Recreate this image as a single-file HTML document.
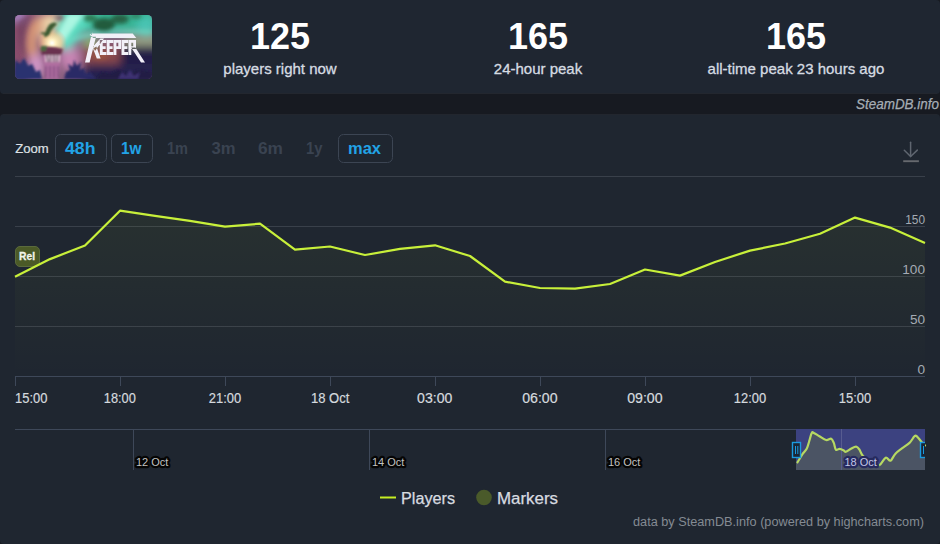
<!DOCTYPE html>
<html><head><meta charset="utf-8">
<style>
*{box-sizing:border-box}
html,body{margin:0;padding:0}
body{width:940px;height:544px;overflow:hidden;background:#171a21;position:relative;font-family:"Liberation Sans",sans-serif}
svg{position:absolute;left:0;top:0}
</style></head>
<body>
<svg width="940" height="544" viewBox="0 0 940 544" font-family="Liberation Sans">
 <!-- panels -->
 <rect x="0" y="0" width="940" height="94" rx="4" fill="#1f2631"/>
 <rect x="0" y="114" width="940" height="430" rx="4" fill="#1f2630"/>
 <path d="M3 93.5 H937" stroke="#23272f" stroke-width="1"/>
 <path d="M3 114.5 H937" stroke="#22262e" stroke-width="1"/>

 <!-- GAME IMAGE -->

 <defs>
  <linearGradient id="areaG" gradientUnits="userSpaceOnUse" x1="0" y1="176" x2="0" y2="376">
   <stop offset="0" stop-color="#c8f030" stop-opacity="0.065"/>
   <stop offset="1" stop-color="#c8f030" stop-opacity="0"/>
  </linearGradient>
  <clipPath id="gclip"><rect x="15" y="15" width="137" height="64" rx="4.5"/></clipPath>
  <filter id="b2" x="-20%" y="-20%" width="140%" height="140%"><feGaussianBlur stdDeviation="2"/></filter>
  <filter id="b1" x="-20%" y="-20%" width="140%" height="140%"><feGaussianBlur stdDeviation="0.9"/></filter>
  <filter id="b4" x="-50%" y="-50%" width="200%" height="200%"><feGaussianBlur stdDeviation="4"/></filter>
  <radialGradient id="glow" cx="0.5" cy="0.5" r="0.5">
   <stop offset="0" stop-color="#ffffff"/>
   <stop offset="0.25" stop-color="#fff0c0"/>
   <stop offset="0.6" stop-color="#f8c890" stop-opacity="0.7"/>
   <stop offset="1" stop-color="#f0a080" stop-opacity="0"/>
  </radialGradient>
 </defs>
 <g clip-path="url(#gclip)">
  <rect x="15" y="15" width="137" height="64" fill="#8a6080"/>
  <g filter="url(#b4)">
   <rect x="5" y="5" width="28" height="60" fill="#8a4e6c"/>
   <ellipse cx="18" cy="16" rx="8" ry="6" fill="#a888c8"/>
   <path d="M56 16 Q32 18 32 42 Q32 56 38 66" stroke="#e8a478" stroke-width="8" fill="none"/>
   <ellipse cx="50" cy="22" rx="8" ry="6" fill="#f0dcb0"/>
   <ellipse cx="46" cy="34" rx="6" ry="8" fill="#f0d0a0"/>
   <ellipse cx="36" cy="66" rx="8" ry="12" fill="#d498c8"/>
   <ellipse cx="70" cy="58" rx="10" ry="12" fill="#c884b4"/>
   <rect x="58" y="5" width="100" height="28" fill="#38b494"/>
   <path d="M48 46 L64 10 L100 10 L70 50 Z" fill="#58dcc0"/>
   <ellipse cx="146" cy="26" rx="10" ry="10" fill="#48c4b4"/>
   <ellipse cx="90" cy="42" rx="8" ry="5" fill="#88c078"/>
   <rect x="125" y="36" width="40" height="10" fill="#98a084"/>
   <rect x="84" y="46" width="45" height="18" fill="#8a4a4c"/>
   <rect x="120" y="46" width="45" height="40" fill="#221e46"/>
   <rect x="84" y="64" width="80" height="25" fill="#262250"/>
   <ellipse cx="22" cy="72" rx="10" ry="9" fill="#2a3070"/>
  </g>
  <g filter="url(#b2)">
   <path d="M52 44 L68 14 L84 14 L60 47 Z" fill="#b8fae8" opacity="0.85"/>
   <path d="M62 40 Q100 26 152 30 L152 34 Q100 32 64 44 Z" fill="#70e0c8" opacity="0.6"/>
   <ellipse cx="104" cy="25" rx="11" ry="7" fill="#225c3c"/>
   <ellipse cx="120" cy="19" rx="9" ry="5" fill="#266244"/>
   <ellipse cx="90" cy="18" rx="7" ry="4" fill="#2a7048" opacity="0.9"/>
   <ellipse cx="136" cy="16" rx="6" ry="3" fill="#2a7050" opacity="0.7"/>
   <ellipse cx="60" cy="18" rx="5" ry="3" fill="#8a5060" opacity="0.8"/>
   <path d="M18 22 Q24 16 32 15 Q24 30 24 45 Q24 55 28 62 Q16 50 18 22 Z" fill="#6a3a5a" opacity="0.6"/>
   <ellipse cx="100" cy="56" rx="8" ry="4" fill="#a05a40" opacity="0.7"/>
  </g>
  <circle cx="52" cy="43" r="15" fill="url(#glow)"/>
  <g filter="url(#b1)">
   <path d="M44 37 Q46 28 50 24 Q55 21 57 24 Q53 28 51 31 Q49 37 44 37 Z" fill="#3a5a30"/>
   <path d="M40 33 Q44 31 48 34 Q44 36 40 33 Z" fill="#3a5a30"/>
   <path d="M40 48 Q50 45 63 49 L61 55 L42 55 Z" fill="#6a3050"/>
   <path d="M41 46 L47 46 L46 51 L41 51 Z" fill="#4a6a40"/>
   <path d="M43 55 L61 55 L59 79 L45 79 Z" fill="#b070a0"/>
   <path d="M45 55 L60 55 L59.5 62 L45.5 62 Z" fill="#e8c8d8"/>
   <path d="M47 55 L48 62 M50.5 55 V62 M54 55 V62 M57.5 55 L57 62" stroke="#4a3050" stroke-width="1.4"/>
   <path d="M46 66 V78 M50 66 V78 M54 66 V78 M58 66 V78" stroke="#6a3a70" stroke-width="1"/>
   <path d="M64 79 L66 72 L70 70 L68 64 L73 67 L74 60 L77 66 L81 62 L80 70 L84 68 L86 74 L90 72 L96 79 Z" fill="#2a2a66"/>
   <path d="M15 60 L20 64 L24 58 L28 66 L32 64 L36 72 L40 70 L42 79 L15 79 Z" fill="#2a3070"/>
   <path d="M96 79 L102 72 L110 74 L118 70 L128 74 L138 70 L152 72 L152 79 Z" fill="#201c44"/>
   <path d="M118 79 L122 72 L126 76 L130 70 L134 76 L140 72 L138 79 Z" fill="#4a3a86" opacity="0.7"/>
  </g>
  <!-- KEEPER logo -->
  <path d="M90.7 33.4 H132.7 L136.3 37.9 H93 Z M89.5 35 L92.5 32.6 L91.5 36 Z M91 36.8 H96 L89.6 62.4 H85 Z M93 46.5 L100.4 38.6 H104 L95 51 Z M93 48.5 L96.4 46.5 L100.6 58.5 H96.8 Z M99.8 40.0 H106.3 V42.9 H102.7 V46.25 H105.70 V48.95 H102.70 V52.10 H106.3 V55.0 H99.8 Z M106.7 40.0 H113.2 V42.9 H109.60000000000001 V46.25 H112.60 V48.95 H109.60 V52.10 H113.2 V55.0 H106.7 Z M113.5 40 H121 V49 H116.4 V55 H113.5 Z M116.4 42.8 V46.2 H118.3 V42.8 Z M121.5 40.0 H128.0 V42.9 H124.4 V46.25 H127.40 V48.95 H124.40 V52.10 H128.0 V55.0 H121.5 Z M128.4 40 H136 V49 H131.3 V55 H128.4 Z M131.3 42.8 V46.2 H133.2 V42.8 Z M131.2 47.6 H135.4 L145 62.4 H141 Z" fill="#f2f0f8" fill-rule="evenodd"/>
 </g>


 <!-- stats -->
 <g fill="#ffffff" font-weight="bold" font-size="36" text-anchor="middle">
  <text x="280" y="49">125</text>
  <text x="538" y="49">165</text>
  <text x="796" y="49">165</text>
 </g>
 <g fill="#d6dce2" stroke="#d6dce2" stroke-width="0.3" font-size="15" text-anchor="middle">
  <text x="280" y="74">players right now</text>
  <text x="538" y="74">24-hour peak</text>
  <text x="796" y="74">all-time peak 23 hours ago</text>
 </g>
 <text x="856" y="109.3" font-size="14" font-style="italic" fill="#a6adb5" stroke="#a6adb5" stroke-width="0.25" textLength="83" lengthAdjust="spacingAndGlyphs">SteamDB.info</text>

 <!-- zoom -->
 <text x="15.3" y="153.2" font-size="13.3" fill="#dde1e5" stroke="#dde1e5" stroke-width="0.2" textLength="33.5" lengthAdjust="spacingAndGlyphs">Zoom</text>
 <g fill="none" stroke="#3c4553" stroke-width="1">
  <rect x="55.5" y="134.5" width="51" height="28" rx="5"/>
  <rect x="111.5" y="134.5" width="41" height="28" rx="5"/>
  <rect x="338.5" y="134.5" width="54" height="28" rx="5"/>
 </g>
 <g font-size="16" font-weight="bold" fill="#22a3e6">
  <text x="65" y="154" textLength="30.5" lengthAdjust="spacingAndGlyphs">48h</text>
  <text x="121" y="154" textLength="20.5" lengthAdjust="spacingAndGlyphs">1w</text>
  <text x="348" y="154" textLength="33" lengthAdjust="spacingAndGlyphs">max</text>
 </g>
 <g font-size="16" font-weight="bold" fill="#3a4351">
  <text x="167" y="154" textLength="21" lengthAdjust="spacingAndGlyphs">1m</text>
  <text x="211.5" y="154" textLength="24" lengthAdjust="spacingAndGlyphs">3m</text>
  <text x="258" y="154" textLength="25" lengthAdjust="spacingAndGlyphs">6m</text>
  <text x="306" y="154" textLength="16.5" lengthAdjust="spacingAndGlyphs">1y</text>
 </g>

 <!-- download icon -->
 <g stroke="#5f6670" stroke-width="1.5" fill="none" stroke-linecap="round">
  <path d="M910.6 142.2 V156.5"/>
  <path d="M904.3 150.2 L910.6 156.5 L917.3 150.1"/>
 </g>
 <path d="M903.2 161.2 H918.9" stroke="#66696e" stroke-width="1.9"/>

 <!-- grid -->
 <g stroke="#39404a" stroke-width="1">
  <path d="M15 176.5 H925"/>
  <path d="M15 226.5 H925"/>
  <path d="M15 276.5 H925"/>
  <path d="M15 326.5 H925"/>
 </g>

 <!-- area + line -->
 <path d="M15 276.8 L50 259.1 L85 245.5 L120 210.7 L155 215.8 L190 220.8 L225 226.7 L260 223.7 L295 249.6 L330 246.5 L365 255 L400 248.9 L435 245.3 L470 256 L505 281.7 L540 288 L575 288.7 L610 284 L645 269.5 L680 275.6 L715 262 L750 250.6 L785 243.5 L820 233.8 L855 217.6 L890 227.6 L925 242.9 L925 376.5 L15 376.5 Z" fill="url(#areaG)"/>
 <path d="M15 376.5 H925" stroke="#3e4859" stroke-width="1"/>
 <g stroke="#3e4859" stroke-width="1">
  <path d="M15.5 376 V386"/><path d="M120.5 376 V386"/><path d="M225.5 376 V386"/><path d="M330.5 376 V386"/><path d="M435.5 376 V386"/><path d="M540.5 376 V386"/><path d="M645.5 376 V386"/><path d="M750.5 376 V386"/><path d="M855.5 376 V386"/>
 </g>
 <!-- Rel flag -->
 <rect x="15.5" y="246.5" width="24" height="20" rx="4.5" fill="#4b5a27" stroke="#5a6a3c" stroke-width="1"/>
 <text x="19" y="260" font-size="11" font-weight="bold" fill="#f2f4ea" stroke="#f2f4ea" stroke-width="0.3" textLength="16" lengthAdjust="spacingAndGlyphs">Rel</text>
 <path d="M15 276.8 L50 259.1 L85 245.5 L120 210.7 L155 215.8 L190 220.8 L225 226.7 L260 223.7 L295 249.6 L330 246.5 L365 255 L400 248.9 L435 245.3 L470 256 L505 281.7 L540 288 L575 288.7 L610 284 L645 269.5 L680 275.6 L715 262 L750 250.6 L785 243.5 L820 233.8 L855 217.6 L890 227.6 L925 242.9" fill="none" stroke="#c8f03a" stroke-width="2.2" stroke-linejoin="round" stroke-linecap="butt"/>

 <!-- y labels -->
 <g font-size="13.6" fill="#a4abb3" text-anchor="end">
  <text x="925" y="224" textLength="19.8" lengthAdjust="spacingAndGlyphs">150</text>
  <text x="925" y="274">100</text>
  <text x="925" y="324">50</text>
  <text x="925" y="374">0</text>
 </g>
 <!-- x labels -->
 <g font-size="14" fill="#d5d9de" stroke="#d5d9de" stroke-width="0.2" text-anchor="middle">
  <text x="31.2" y="403.2" textLength="32.4" lengthAdjust="spacingAndGlyphs">15:00</text>
  <text x="119.8" y="403.2" textLength="32" lengthAdjust="spacingAndGlyphs">18:00</text>
  <text x="225" y="403.2" textLength="32.4" lengthAdjust="spacingAndGlyphs">21:00</text>
  <text x="330.2" y="403.2" textLength="38.4" lengthAdjust="spacingAndGlyphs">18 Oct</text>
  <text x="434.7" y="403.2" textLength="35.2" lengthAdjust="spacingAndGlyphs">03:00</text>
  <text x="539.9" y="403.2" textLength="35.4" lengthAdjust="spacingAndGlyphs">06:00</text>
  <text x="644.9" y="403.2" textLength="35.4" lengthAdjust="spacingAndGlyphs">09:00</text>
  <text x="750" y="403.2" textLength="32.4" lengthAdjust="spacingAndGlyphs">12:00</text>
  <text x="855" y="403.2" textLength="32.4" lengthAdjust="spacingAndGlyphs">15:00</text>
 </g>

 <!-- navigator -->
 <path d="M15 429.5 H925" stroke="#3e4859" stroke-width="1"/>
 <g stroke="#3e4859" stroke-width="1">
  <path d="M133.5 429 V470"/><path d="M369.5 429 V470"/><path d="M605.5 429 V470"/>
 </g>
 <rect x="796" y="429" width="129" height="41" fill="#3c4280"/>
 <path d="M797.4 462.4 C798.2 461.1 800.5 457.1 802 454.8 C803.5 452.5 805.5 451.1 806.7 448.8 C807.9 446.5 808.4 443.9 809.2 441.2 C810.1 438.5 810.9 434.1 811.8 432.8 C812.6 431.5 813.0 432.6 814.3 433.2 C815.6 433.8 817.4 435.1 819.4 436.2 C821.4 437.3 824.1 439.6 826.1 440 C828.1 440.4 829.9 438.2 831.2 438.7 C832.5 439.2 833.0 441.1 833.8 442.9 C834.6 444.7 834.9 448.7 835.9 449.7 C836.9 450.7 838.4 448.7 839.7 448.8 C841.0 448.9 842.9 450.0 843.9 450.5 C844.9 451.0 844.7 452.1 845.9 451.8 C847.1 451.5 849.3 449.7 851 448.8 C852.7 447.9 854.7 446.6 856.1 446.7 C857.5 446.8 858.5 448.3 859.5 449.7 C860.5 451.1 860.6 453.1 862.4 455.2 C864.1 457.2 867.9 460.4 870 462 C872.1 463.6 873.4 464.0 875 464.5 C876.6 465.0 878.0 466.0 879.8 464.9 C881.6 463.8 883.9 458.4 885.7 457.7 C887.5 457.0 888.9 461.3 890.5 460.7 C892.1 460.1 893.3 455.9 895.2 453.9 C897.1 451.8 899.5 450.2 901.9 448.4 C904.3 446.6 907.4 444.9 909.5 442.9 C911.6 440.9 913.3 437.2 914.6 436.2 C915.9 435.1 916.0 435.7 917.1 436.6 C918.2 437.5 920.1 440.2 921.4 441.7 C922.7 443.2 924.4 444.9 925 445.5 L925 470 L796 470 L796 463.5 Z" fill="#4b5464"/>
 <path d="M841.5 429 V470" stroke="#575c90" stroke-width="1"/>
 <path d="M797.4 462.4 C798.2 461.1 800.5 457.1 802 454.8 C803.5 452.5 805.5 451.1 806.7 448.8 C807.9 446.5 808.4 443.9 809.2 441.2 C810.1 438.5 810.9 434.1 811.8 432.8 C812.6 431.5 813.0 432.6 814.3 433.2 C815.6 433.8 817.4 435.1 819.4 436.2 C821.4 437.3 824.1 439.6 826.1 440 C828.1 440.4 829.9 438.2 831.2 438.7 C832.5 439.2 833.0 441.1 833.8 442.9 C834.6 444.7 834.9 448.7 835.9 449.7 C836.9 450.7 838.4 448.7 839.7 448.8 C841.0 448.9 842.9 450.0 843.9 450.5 C844.9 451.0 844.7 452.1 845.9 451.8 C847.1 451.5 849.3 449.7 851 448.8 C852.7 447.9 854.7 446.6 856.1 446.7 C857.5 446.8 858.5 448.3 859.5 449.7 C860.5 451.1 860.6 453.1 862.4 455.2 C864.1 457.2 867.9 460.4 870 462 C872.1 463.6 873.4 464.0 875 464.5 C876.6 465.0 878.0 466.0 879.8 464.9 C881.6 463.8 883.9 458.4 885.7 457.7 C887.5 457.0 888.9 461.3 890.5 460.7 C892.1 460.1 893.3 455.9 895.2 453.9 C897.1 451.8 899.5 450.2 901.9 448.4 C904.3 446.6 907.4 444.9 909.5 442.9 C911.6 440.9 913.3 437.2 914.6 436.2 C915.9 435.1 916.0 435.7 917.1 436.6 C918.2 437.5 920.1 440.2 921.4 441.7 C922.7 443.2 924.4 444.9 925 445.5" fill="none" stroke="#b6d862" stroke-width="2.2" stroke-linejoin="round" stroke-linecap="round"/>
 <g font-size="11" fill="#c2c2c2" stroke="#050505" stroke-width="4.4" paint-order="stroke" stroke-linejoin="round">
  <text x="136" y="466">12 Oct</text>
  <text x="372" y="466">14 Oct</text>
  <text x="608" y="466">16 Oct</text>
 </g>
 <text x="844.5" y="466" font-size="11" fill="#c2c6e6" stroke="#262a5e" stroke-width="4.4" paint-order="stroke" stroke-linejoin="round">18 Oct</text>
 <!-- handles -->
 <rect x="792.5" y="442.5" width="8" height="15" fill="#1a2535" stroke="#1a9be0" stroke-width="1.4"/>
 <path d="M795.5 446 V454 M797.8 446 V454" stroke="#1a9be0" stroke-width="1"/>
 <svg x="0" y="0" width="925" height="544" overflow="hidden">
  <rect x="920.5" y="442.5" width="8" height="15" fill="#1a2535" stroke="#1a9be0" stroke-width="1.4"/>
  <path d="M923.5 446 V454" stroke="#1a9be0" stroke-width="1"/>
 </svg>

 <!-- legend -->
 <path d="M380 497.5 H396" stroke="#c6ee22" stroke-width="2"/>
 <text x="401" y="504" font-size="16" fill="#d8dce0" stroke="#d8dce0" stroke-width="0.25" textLength="54" lengthAdjust="spacingAndGlyphs">Players</text>
 <circle cx="484" cy="497.5" r="7.8" fill="#4a5a2a"/>
 <text x="497" y="504" font-size="16" fill="#d8dce0" stroke="#d8dce0" stroke-width="0.25" textLength="61" lengthAdjust="spacingAndGlyphs">Markers</text>
 <text x="633" y="526" font-size="12" fill="#848b93" textLength="291" lengthAdjust="spacingAndGlyphs">data by SteamDB.info (powered by highcharts.com)</text>
</svg>
</body></html>
